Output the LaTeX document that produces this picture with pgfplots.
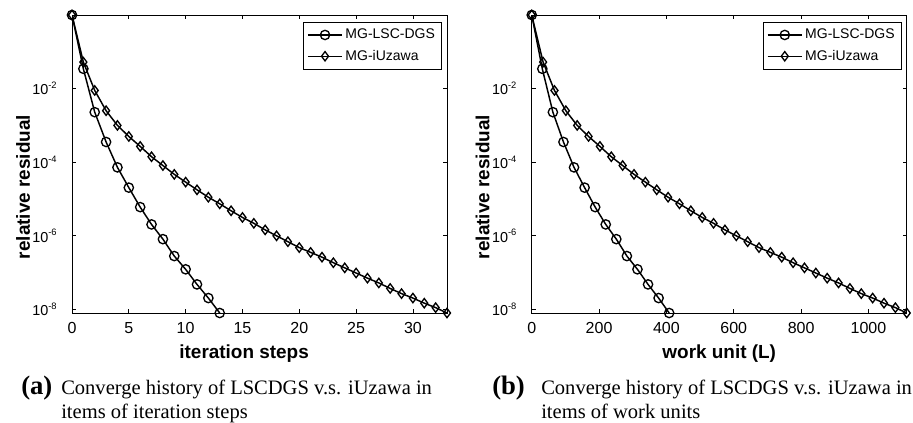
\documentclass[border=0pt]{standalone}
\usepackage{fontspec}
\setmainfont{Liberation Serif}
\setsansfont{Liberation Sans}
\usepackage{pgfplots}
\pgfplotsset{compat=1.18}
\usepackage{pgfplotstable}

% MG-LSC-DGS: iteration k, work units w, relative residual r
\pgfplotstableread{
k w r
0 0 1
1 31.4 3.45e-2
2 62.8 2.29e-3
3 94.2 3.55e-4
4 125.6 7.24e-5
5 157.0 2.04e-5
6 188.4 6.03e-6
7 219.8 2.04e-6
8 251.2 8.13e-7
9 282.6 2.82e-7
10 314.0 1.23e-7
11 345.4 4.79e-8
12 376.8 2.04e-8
13 408.2 8.0e-9
}\lsc

% MG-iUzawa
\pgfplotstableread{
k w r
0 0 1
1 33.75 5.25e-2
2 67.5 8.91e-3
3 101.25 2.51e-3
4 135.0 1.0e-3
5 168.75 5.01e-4
6 202.5 2.69e-4
7 236.25 1.41e-4
8 270.0 8.13e-5
9 303.75 4.68e-5
10 337.5 2.88e-5
11 371.25 1.78e-5
12 405.0 1.12e-5
13 438.75 7.41e-6
14 472.5 4.79e-6
15 506.25 3.16e-6
16 540.0 2.19e-6
17 573.75 1.45e-6
18 607.5 1.0e-6
19 641.25 6.92e-7
20 675.0 4.79e-7
21 708.75 3.55e-7
22 742.5 2.63e-7
23 776.25 1.86e-7
24 810.0 1.35e-7
25 843.75 9.77e-8
26 877.5 7.08e-8
27 911.25 5.25e-8
28 945.0 3.72e-8
29 978.75 2.69e-8
30 1012.5 2.04e-8
31 1046.25 1.48e-8
32 1080.0 1.12e-8
33 1113.75 8.0e-9
}\uza

\newcommand{\expo}[1]{\raisebox{0.8ex}{\fontsize{7}{8}\selectfont #1}}

\pgfplotsset{
  every axis/.append style={
    scale only axis, width=281.25pt, height=223.5pt,
    tick align=inside, major tick length=3pt,
    axis line style={line width=0.6pt},
    every tick/.append style={black, line width=0.6pt},
    xticklabel style={yshift=-3.5pt, font=\sffamily\fontsize{12}{14}\selectfont},
    yticklabel style={xshift=-8pt, font=\sffamily\fontsize{10.8}{12}\selectfont},
    label style={font=\sffamily\bfseries\fontsize{14.2}{16}\selectfont},
    legend style={at={(0.9867,0.9765)}, anchor=north east, draw=black, line width=0.6pt,
      font=\sffamily\fontsize{10.5}{12}\selectfont, inner sep=3pt, row sep=3pt},
    legend cell align=left,
  },
  every axis plot/.append style={line width=1.1pt, black, mark size=3.5pt, mark options={solid, line width=1pt}},
}

\begin{document}
\begin{tikzpicture}
\path[use as bounding box] (0,0) rectangle (684.75pt,316.5pt);

\begin{axis}[at={(54pt,81.75pt)}, anchor=south west,
  ymode=log, ymin=8e-9, ymax=1,
  ytick={1e-8,1e-6,1e-4,1e-2},
  yticklabels={10\expo{-8},10\expo{-6},10\expo{-4},10\expo{-2}},
  yminorticks=false,
  /pgf/number format/assume math mode=true,
  /pgf/number format/1000 sep={},
  legend image code/.code={\draw[mark repeat=2,mark phase=2] plot coordinates {(0cm,0cm)(0.45cm,0cm)(0.9cm,0cm)};},
  xmin=0, xmax=33, xtick={0,5,...,30},
  xlabel style={at={(axis description cs:0.459,-0.151)}, anchor=base},
  ylabel style={at={(axis description cs:-0.1307,0.4228)}, anchor=center},
  xlabel={iteration steps}, ylabel={relative residual}]
\addplot[mark=o] table[x=k,y=r] {\lsc};
\addlegendentry{MG-LSC-DGS}
\addplot[mark=diamond] table[x=k,y=r] {\uza};
\addlegendentry{MG-iUzawa}
\end{axis}

\begin{axis}[at={(398.8pt,81.75pt)}, anchor=south west,
  ymode=log, ymin=8e-9, ymax=1,
  ytick={1e-8,1e-6,1e-4,1e-2},
  yticklabels={10\expo{-8},10\expo{-6},10\expo{-4},10\expo{-2}},
  yminorticks=false,
  /pgf/number format/assume math mode=true,
  /pgf/number format/1000 sep={},
  legend image code/.code={\draw[mark repeat=2,mark phase=2] plot coordinates {(0cm,0cm)(0.45cm,0cm)(0.9cm,0cm)};},
  xmin=0, xmax=1113.75, xtick={0,200,...,1000},
  xlabel style={at={(axis description cs:0.5,-0.151)}, anchor=base},
  ylabel style={at={(axis description cs:-0.1307,0.4228)}, anchor=center},
  xlabel={work unit (L)}, ylabel={relative residual}]
\addplot[mark=o] table[x=w,y=r] {\lsc};
\addlegendentry{MG-LSC-DGS}
\addplot[mark=diamond] table[x=w,y=r] {\uza};
\addlegendentry{MG-iUzawa}
\end{axis}

\node[anchor=base west, inner sep=0, font=\bfseries\fontsize{20}{22}\selectfont] at (15.75pt,21pt) {(a)};
\node[anchor=base west, inner sep=0, font=\fontsize{15.4}{17}\selectfont] at (45.75pt,21pt) {Converge history of LSCDGS v.s. iUzawa in};
\node[anchor=base west, inner sep=0, font=\fontsize{15.4}{17}\selectfont] at (45.75pt,3pt) {items of iteration steps};

\node[anchor=base west, inner sep=0, font=\bfseries\fontsize{20}{22}\selectfont] at (369pt,21pt) {(b)};
\node[anchor=base west, inner sep=0, font=\fontsize{15.4}{17}\selectfont] at (405.75pt,21pt) {Converge history of LSCDGS v.s. iUzawa in};
\node[anchor=base west, inner sep=0, font=\fontsize{15.4}{17}\selectfont] at (405.75pt,3pt) {items of work units};
\end{tikzpicture}
\end{document}
